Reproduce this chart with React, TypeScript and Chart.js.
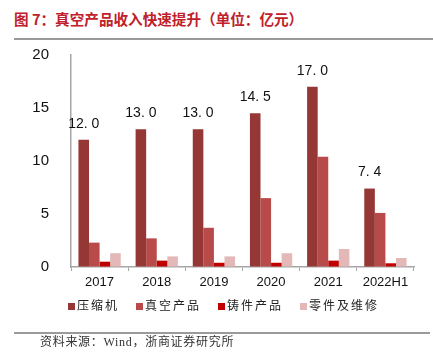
import React, { useEffect, useRef } from "react";
import { Chart, registerables } from "chart.js";
Chart.register(...registerables);

const categories = ["2017", "2018", "2019", "2020", "2021", "2022H1"];
const compressor = [12.0, 13.0, 13.0, 14.5, 17.0, 7.4];
const vacuum = [2.3, 2.7, 3.7, 6.5, 10.4, 5.1];
const castings = [0.5, 0.6, 0.4, 0.4, 0.6, 0.35];
const parts = [1.3, 1.0, 1.0, 1.3, 1.7, 0.85];
const seriesNames = ["压缩机", "真空产品", "铸件产品", "零件及维修"];
const seriesColors = ["#953735", "#B84B49", "#C00000", "#E3B8B7"];
const yTicks = [0, 5, 10, 15, 20];
const titleText = "图 7：真空产品收入快速提升（单位：亿元）";
const sourceText = "资料来源：Wind，浙商证券研究所";

const fmtLabel = (v: number) => v.toFixed(1).replace(".", ". ");

const labelPlugin = {
  id: "topLabels",
  afterDatasetsDraw(chart: any) {
    const ctx = chart.ctx;
    const meta = chart.getDatasetMeta(0);
    ctx.save();
    ctx.font = "14px 'Liberation Sans', Arial, sans-serif";
    ctx.fillStyle = "#111";
    ctx.textAlign = "center";
    ctx.textBaseline = "middle";
    meta.data.forEach((bar: any, i: number) => {
      ctx.fillText(fmtLabel(compressor[i]), bar.x, bar.y - 16);
    });
    ctx.restore();
  },
};

export default function App() {
  const ref = useRef<HTMLCanvasElement>(null);
  useEffect(() => {
    if (!ref.current) return;
    const series = [compressor, vacuum, castings, parts];
    const chart = new Chart(ref.current, {
      type: "bar",
      data: {
        labels: categories,
        datasets: series.map((d, i) => ({
          label: seriesNames[i],
          data: d,
          backgroundColor: seriesColors[i],
          borderWidth: 0,
          categoryPercentage: 0.74,
          barPercentage: 1.0,
        })),
      },
      options: {
        responsive: false,
        animation: false,
        devicePixelRatio: 1,
        layout: { padding: { left: 0, right: 19, top: 55, bottom: 66 } },
        plugins: {
          legend: { display: false },
          tooltip: { enabled: false },
          title: { display: false },
        },
        scales: {
          x: {
            grid: {
              drawOnChartArea: false,
              drawTicks: true,
              tickLength: 4,
              color: "#A6A6A6",
            },
            border: { color: "#A6A6A6", width: 1.5 },
            ticks: {
              color: "#111",
              padding: 4,
              font: { family: "'Liberation Sans', Arial, sans-serif", size: 13 },
            },
            afterFit: (s: any) => {
              s.height = 30;
            },
          },
          y: {
            min: 0,
            max: 20,
            afterBuildTicks: (s: any) => {
              s.ticks = yTicks.map((v) => ({ value: v }));
            },
            grid: { drawOnChartArea: false, drawTicks: false },
            border: { color: "#A6A6A6", width: 1.5 },
            ticks: {
              color: "#111",
              padding: 22,
              font: { family: "'Liberation Sans', Arial, sans-serif", size: 15 },
              callback: (v: any) => String(v),
            },
            afterFit: (s: any) => {
              s.width = 71;
            },
          },
        },
      },
      plugins: [labelPlugin],
    });
    return () => chart.destroy();
  }, []);

  const serifCjk = "'Liberation Serif', 'Noto Sans CJK SC', serif";
  return (
    <div style={{ position: "absolute", left: 0, top: 0, width: 433, height: 363, background: "#fff", overflow: "hidden" }}>
      <div
        style={{
          position: "absolute",
          left: 14,
          top: 9,
          fontFamily: "'Noto Sans CJK SC', sans-serif",
          fontWeight: 700,
          fontSize: 14.6,
          lineHeight: "20px",
          color: "#C0202A",
          whiteSpace: "nowrap",
        }}
      >
        {titleText}
      </div>
      <div style={{ position: "absolute", left: 14, top: 38, width: 419, borderTop: "2px solid #9A9A9A" }} />
      <canvas ref={ref} width={433} height={363} style={{ position: "absolute", left: 0, top: 0, width: 433, height: 363 }} />
      <div
        style={{
          position: "absolute",
          left: 68,
          top: 298,
          display: "flex",
          alignItems: "center",
          fontFamily: serifCjk,
          fontSize: 12,
          lineHeight: "16px",
          color: "#222",
          whiteSpace: "nowrap",
        }}
      >
        {seriesNames.map((n, i) => (
          <div key={n} style={{ display: "flex", alignItems: "center", marginRight: 17 }}>
            <span style={{ display: "inline-block", width: 7, height: 7, background: seriesColors[i], marginRight: 2 }} />
            <span style={{ letterSpacing: 2 }}>{n}</span>
          </div>
        ))}
      </div>
      <div style={{ position: "absolute", left: 14, top: 332, width: 416, borderTop: "2px solid #9A9A9A" }} />
      <div
        style={{
          position: "absolute",
          left: 40,
          top: 334,
          fontFamily: serifCjk,
          fontSize: 12,
          lineHeight: "16px",
          letterSpacing: 0.7,
          color: "#333",
          whiteSpace: "nowrap",
        }}
      >
        {sourceText}
      </div>
    </div>
  );
}
